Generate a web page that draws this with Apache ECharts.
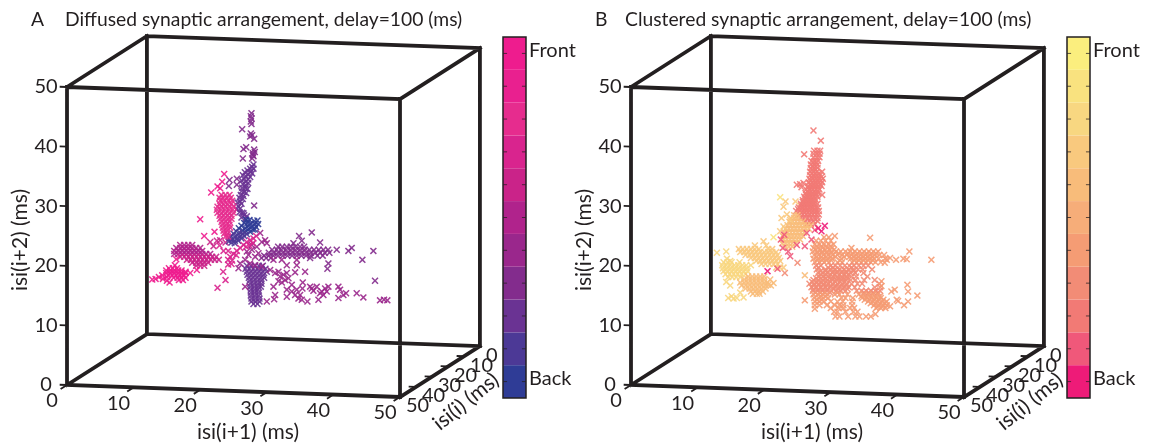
<!DOCTYPE html>
<html><head><meta charset="utf-8">
<style>html,body{margin:0;padding:0;background:#fff}#c{width:1150px;height:447px}</style>
<script src="https://cdn.jsdelivr.net/npm/echarts@6/dist/echarts.min.js"></script>
</head><body><div id="c"></div>
<script>
// Colour levels, Back (0) to Front (10)
const paletteA=['#2F3C96','#4C3996','#6A3393','#832C8D','#9A278C','#B0238C','#CA2389','#D9248E','#E62C8E','#E9208F','#EE1C8E'];
const paletteB=['#EE1B78','#F0587A','#F27A75','#F28C76','#F59C74','#F6AD79','#F8BC7A','#F9C97E','#F8D781','#F9E27F','#FBEE7E'];
const levelLabels=['Back','','','','','','','','','','Front'];
const axisTicks=[0,10,20,30,40,50];
// Scatter rows: [y, x, x, ...] (projected onto the front face)
const aStemTop=[[45.6,27.7],[45.1,27.6],[44.7,27.7],[44.2,27.6],[43.8,27.7],[42.9,26.3],[42.2,27.6],[41.9,27.8],[41.7,27.5],[41.3,28.1],[39.6,26.5],[39.9,26.9],[39.5,28.1],[39.1,28.2],[38.9,27.9],[38.6,27.9],[38.4,28],[38,27.8,26.4],[34.4,24.4],[34.6,25.5],[33.4,24.3],[33.6,25.5],[30.1,28.1]];
const aStem=[[37,28],[36.6,27.8],[36.3,27.5,28],[36,27.1],[35.8,27.6],[35.7,26.7],[35.5,27.8],[35.4,27.2],[35.2,26.4],[35,26.9],[34.9,27.5],[34.6,26.6],[34.5,27.2],[34.3,26.2],[34.1,26.8],[33.9,27.2],[33.7,26.4],[33.5,26.9],[33.1,26.3],[33,26.8],[32.9,27.1],[32.5,26.2],[32.4,26.6],[32.2,26.9],[31.9,26.1],[31.7,26.5],[31.4,25.9],[31.2,26.4],[30.8,26],[30.6,25.6],[30.4,26.2],[30,25.7],[29.6,26],[29.5,25.5],[29,25.9],[28.9,26.3],[28.8,26.5],[28.5,26.6],[28.3,27],[28.1,26.2],[27.9,26.8]];
const aPinkBlob=[[31.9,23.2,23.8,24.4],[31.4,22.9,23.4,24,24.6],[30.9,23,23.6,24.2,24.8],[30.4,22.9,23.5,24.1,24.7],[29.9,22.6,23.2,23.8,24.4,25],[29.4,22.5,23.1,23.7,24.3,24.9],[28.9,22.6,23.2,23.8,24.4,25],[28.4,22.9,23.5,24.1,24.7],[27.9,23,23.6,24.2,24.7],[27.4,23.2,23.8,24.4],[26.9,23.3,23.9,24.4],[26.4,23.4,24,24.5],[25.9,23.5,24.1],[25.4,23.6,24.1],[24.9,23.8,24.2]];
const aPinkTop=[[35.4,23.6],[34.1,23.3],[33.3,22.6],[32.3,21.65],[33,23],[27.8,20],[25,20.6],[25.7,22.15]];
const aBlue0=[[27.6,28.6],[27.5,28.1],[27.7,26.9,27.4],[27.2,26.6,27.1],[27,28.7,28.2],[27.1,27.6],[26.5,28.4],[26.6,27.8],[26.7,27.2,26.2],[26.1,27.9,28.2],[26.2,27.3],[26.3,26.8,25.8],[25.7,27.5],[25.8,26.9,25.4],[25.9,26.4]];
const aBlue1=[[25.3,27],[25.4,26.4,25],[25.6,25.9],[25,26.6,26.1,24.6],[25.1,25.6],[24.6,26.2,25.6,24.4],[24.8,25.2],[24.2,25.7,25.2],[24.4,24.8],[23.8,25.2],[23.9,24.7],[24.1,24.3]];
const aLeftBand=[[23.5,17,17.6,18.2,18.8],[23,16.4,17,17.6,18.2,18.8,19.4,20],[22.5,16.1,16.7,17.3,17.9,18.5,19.1,19.7,20.3],[22,16.1,16.7,17.3,17.9,18.5,19.1,19.7,20.3,20.9,21.5]];
const aLeftBand2=[[21.5,17,17.6,18.2,18.8,19.4,20,20.6,21.2,21.8,22.4],[21,18,18.6,19.2,19.8,20.4,21,21.6,22.2,22.8],[20.5,18.8,19.4,20,20.6,21.2],[20,19.4,20,20.6],[24,21.5],[24.2,22.5],[24.3,23],[23.9,23.8],[23.3,22]];
const aPinkLeft=[[19.6,15.3,15.9,16.5],[19.2,14.9,15.5,16.1,16.7,17.2],[18.8,14.9,15.5,16.1,16.7,17.2,17.8],[18.4,15.2,15.8,16.4,17,17.6],[18,16,16.6,17.2,17.8],[17.6,16.8,17.4],[17.7,12.8],[17.8,13.3,14.4],[18.1,13.8,15],[18.4,14.3],[17.5,15],[17.2,15.4],[18.8,18.5],[19.3,19.5],[19,17.8],[20.1,16.2],[21.1,16.4]];
const aDiagonal=[[21.5,24.5],[22,25],[22.5,25.5,24.2],[23,26],[23.5,26.5],[24,27],[24.3,27.5],[24.6,28],[25,28.4],[23.2,26.9],[23.4,27.4,22.9],[23.8,27.9],[21.8,25.4],[20.9,24.8],[21,24.2],[20.2,24.2],[20.3,24.7],[22.5,23.5],[19,23.45],[17.6,23.8],[16.3,22.6]];
const aBottom=[[20,27,27.6,28.2,28.8,29.4],[19.5,26.8,27.4,28,28.6,29.2,29.8],[19,27,27.6,28.2,28.8,29.4,30],[18.5,27.1,27.7,28.3,28.9,29.5],[18,27.3,27.9,28.5,29.1,29.6],[17.5,27.4,28,28.6,29.2],[17,27.5,28.1,28.7,29.2],[16.5,27.5,28.1,28.7,29.1],[16,27.6,28.2,28.7],[15.5,27.6,28.2,28.8],[15,27.6,28.2,28.8],[14.5,27.7,28.3,28.9],[14,27.7,28.3,28.9],[13.6,28,28.6]];
const aMiddle=[[20.4,26,27.5],[21,26.75],[21.5,28.25],[22.1,28.75],[22.7,27.75],[23.2,28.5],[24,29.25],[25.5,29],[24.3,29.75],[23.8,30],[21.8,27.25],[20.1,28.25],[19.6,25.75],[16.5,26.75],[19.9,29.25],[23.5,27.75],[22.4,27]];
const aRight=[[23.2,31.7,32.3,33,33.6,34.3,35,35.6],[22.7,30.8,31.5,32.2,32.9,33.6,34.3,35,35.7,36.4,37.1,37.8,38.5,39.2],[22.2,30.3,31,31.7,32.4,33.1,33.8,34.5,35.2,35.9,36.6,37.3,38,38.7,39.4],[21.7,29.6,30.3,31,31.7,32.4,33.1,33.8,34.5,35.2,35.9,36.6,37.6,38.4],[21.3,29.2,29.9,30.6,36.5],[22.7,40.5],[22.5,42.25,46],[23,42.75],[21,44.35],[17.5,46.25],[20.4,39.25],[19.5,39.1],[25.6,36.75],[25,34.85],[24.2,35.25],[23.9,38],[23.8,34]];
const aScatter=[[21,31,32.25,34.5],[20.1,33,34.5],[19,31.75,35.75],[18.8,33,31.25],[18.9,34.25],[19.3,30.5],[18.2,32],[18.5,32.5],[17.6,32.75],[17.4,31.75],[17.2,32.25,35.4],[17.9,33.25],[16.8,33.75],[16.5,31],[15.1,31.25],[14.4,31.1],[16.2,35.35],[14,30]];
const aLower=[[16,33,34.5],[14.8,33],[15.7,33.75,38.25,39],[15.1,34.25,35,38.5,41.5],[14.5,34.75],[14.3,35.25,37.75,47.6],[14,36.1],[16.2,36.75,38.75],[15.8,37],[16.5,37.5,39.25,40.75,36.5],[15.4,38,41.9,43.5],[16,41],[14.6,40.75],[14.7,44.5],[14.2,47,48.1]];
const bTopOut=[[42.7,27.4],[41,28.5],[38.7,26],[31.9,28.7]];
const bStem=[[39.3,27.5,28,28.4],[38.8,27.4,27.9,28.3],[38.2,27.4,27.9,28.3],[37.6,27.1,27.6,28.1],[37,27,27.5,28],[36.4,27,27.5,28],[35.8,26.9,27.4,27.9,28.7],[35.2,26.9,27.4,27.9,28.4],[34.6,26.8,27.3,27.8,28.3,28.8],[34,26.7,27.2,27.7,28.2,28.7],[33.4,26.6,27.1,27.6,28.1,28.6],[32.8,26.3,26.8,27.3,27.8,28.3],[32.2,26.2,26.7,27.2,27.7,28.1],[31.6,26,26.5,27,27.5,28],[31,25.8,26.3,26.8,27.3,27.8],[30.4,25.5,26,26.5,27,27.5,28],[29.8,25.2,25.7,26.2,26.7,27.2,27.7,28.1],[29.2,24.8,25.3,25.8,26.3,26.8,27.3,27.8,28.2],[28.6,25.3,25.8,26.3,26.8,27.3,27.8,28.2],[28,25.5,26,26.5,27,27.5,28],[33.6,24.9],[33.7,25.4],[33.9,25.9],[33.2,25.6],[27.5,26.2,26.8,27.4,28],[27,26.4,27,27.6]];
const bStemFill=[[37.3,27.4,27.8],[36.7,27.3,27.8],[36.1,27.2,27.7],[35.5,27.2,27.7,28.2],[34.9,27.1,27.6,28.1,28.6],[34.3,27,27.5,28,28.5],[33.7,26.9,27.4,27.9,28.4],[33.1,26.6,27.1,27.6,28.1],[32.5,26.5,27,27.5,28],[31.9,26.3,26.8,27.3,27.8],[31.3,26.1,26.6,27.1,27.6],[30.7,25.8,26.3,26.8,27.3],[30.1,25.5,26,26.5,27,27.5],[29.5,25.1,25.6,26.1,26.6,27.1,27.6],[28.9,25.6,26.1,26.6,27.1,27.6]];
const bMagenta0=[[26.7,29.1],[25.8,28.6],[19.1,20.5],[26.3,28.1]];
const bMagenta1=[[26,27.6],[24.4,27.1],[23.3,26.1],[21.6,23.9],[22.4,23.6],[23,22.8],[19.5,22],[23.5,24.9],[25.5,26.4],[24.4,22.5],[25.2,23]];
const bCentre=[[28.5,24.5,25],[28,24,24.5,25],[27.4,23.8,24.3,24.8,25.3,25.8],[26.8,23.5,24,24.5,25,25.5,26,26.5,27],[26.2,23.2,23.7,24.2,24.7,25.2,25.7,26.2,26.7],[25.6,23,23.5,24,24.5,25,25.5,26],[25,22.8,23.3,23.8,24.3,24.8,25.3,25.8],[24.4,22.9,23.4,23.9,24.4,24.9,25.4],[23.8,22.7,23.2,23.7,24.2,24.7],[23.2,23.2,23.7,24.2]];
const bArm=[[30.8,23.2,24.7],[29.9,22.9],[28.6,23.4],[28,22.6],[27.7,23.9],[26.6,22.9],[25.8,22.4],[24.1,19.9],[23.4,20.3,18.6]];
const bArmTip=[[31.5,22.4],[24.8,21.4]];
const bLeftBand=[[22.8,16.2,16.8,17.4,18,18.6,19.2,20.6,21.2],[22.3,16.4,17,17.6,18.2,18.8,19.4,20,20.6,21.2,21.8],[21.8,17.2,17.8,18.4,19,19.6,20.2,20.8,21.4,22],[21.3,18,18.6,19.2,19.8,20.4,21,21.6,22.2],[20.8,18.8,19.4,20,20.6,21.2,21.8,22.4],[20.3,19.6,20.2,20.8,21.4,22],[19.7,21.8,22.4,22.9]];
const bYellow=[[20.6,13.9,14.5,15.1,16.3],[20.1,13.7,14.3,14.9,15.5,16.1,16.7,17.3,18],[19.6,13.8,14.4,15,15.6,16.2,16.8,17.4],[19.1,13.9,14.5,15.1,15.7,16.3,16.9,17.5],[18.6,14.2,14.8,15.4,16,16.6,17.2],[18.1,14.6,15.2,15.8,16.4],[22.2,12.9],[22.4,14.3],[21.2,14.4],[20.8,14.9],[17.3,14.3],[16.7,14.9],[14.9,15.1],[14.6,14.6,15.9],[15.5,16.4],[14.7,16.9],[14.5,15.4]];
const bLowerLeft=[[18.2,17.6,18.2,18.8,19.4,20],[17.7,17,17.6,18.2,18.8,19.4,20,20.9],[17.2,16.4,17,17.6,18.2,18.8,19.4,20,20.5],[16.7,16.6,17.2,17.8,18.4,19,19.6,20.2,21],[16.2,17.2,17.8,18.4,19,19.6,20.2],[15.7,18,18.6,19.2,19.8],[15.3,18.3,18.9,19.3],[17.1,21.4],[16.8,20.6],[18.4,26.1]];
const bBodyTop=[[24.8,29,29.7],[24.2,27.8,28.5,29.2,30],[23.6,27.6,28.3,29,29.7,30.4],[23,27.4,28.1,28.8,29.5,30.2,33.1],[22.4,27.3,28,28.7,29.4,30.1,30.8,31.5,32.2,32.9,33.6,34.3,35,35.7,36.4,37.1],[21.8,27.5,28.2,28.9,29.6,30.3,31,31.7,32.4,33.1,33.8,34.5,35.2,35.9,36.6,37.3,38],[21.2,27.4,28.1,28.8,29.5,30.2,31.6,33,33.7,34.4,35.1,35.8,36.5,37.2,38.2],[20.6,27.6,28.3,29,29.7,31,31.7,33.2,33.9,34.6,35.3,36,36.7,37.5],[24.7,35.9],[22.4,41.8],[21.1,41.4],[21.2,40.9],[21,45.1,39.8,38.4],[21.3,38.9],[20.5,38.1],[25,30.6]];
const bBodyFill=[[23.3,27.9,28.6,29.3,30],[22.7,27.7,28.4,29.1,29.8,30.5],[22.1,28,28.7,29.4,30.1,31.2,32.6,33.3,34,34.7,35.4,36.1,36.8],[21.5,27.9,28.6,29.3,30,30.7,32,32.8,33.5,34.2,34.9,35.6,36.3],[20.9,28,28.7,29.4,30.1,31.4,33.5,34.2,34.9,35.6,36.3]];
const bCore=[[20,27.8,28.5,30,30.7,31.4,32.1,32.8,33.5,34.2,34.9,35.6],[19.4,27.9,29.2,29.9,30.6,31.3,32,32.7,33.4,34.1,34.8,36.2],[18.8,28.1,28.8,29.5,30.2,30.9,31.6,32.3,33,33.7,34.9],[18.2,28.2,28.9,29.6,30.3,31,31.7,32.4,33.1,33.8,35.5],[17.6,27.4,28.1,28.8,29.5,30.2,30.9,31.6,32.3,33,33.7,35,36.6],[17,26.8,27.5,28.2,28.9,29.6,30.3,31,31.7,32.4,33.1,34,34.7,37.3],[16.4,27.1,27.8,28.5,29.2,29.9,30.6,31.3,32,32.7,33.6,36.6,37.4],[15.8,27.3,28,28.7,29.4,30.1,30.8,31.5,32.2,33.9,34.6,35.3,36,36.7,37.4],[20.5,25],[18.8,23.1],[19.1,30.4,31,31.7,32.3],[18.5,30.6,31.3,32,32.6],[17.9,30.2,31,31.7,32.4],[17.3,29.9,30.7,31.4,32.1],[16.7,30,30.8,31.6],[16.1,30.4,31.1,31.8]];
const bCoreFill=[[19.7,28.2,29.6,30.3,33.1],[19.1,28.5,29.2,33.4],[18.5,28.5,29.3,30],[17.9,27.8,28.5,29.2],[17.3,27.2,27.9,28.6,29.3],[16.7,27.5,28.2,28.9,29.4,32.3],[16.1,27.4,28.1,28.8,29.5,32.5],[15.5,27.7,28.4,29.1,29.9,31,35,35.7,36.4,37.1]];
const bBodyLow=[[15.2,27.4,28.1,28.8,29.5,30.6,31.3,32.5,34.2,34.9,35.6,36.3,37],[14.6,27.5,28.2,28.9,29.6,31.6,32.2,33.3,34.7,35.4,36.1,36.8,37.5],[14,27.6,28.3,29,30,31,31.8,33.2,35.6,36.3,37,37.7,38.4],[13.4,27.6,28.3,29.4,30.6,31.3,31.9,33.2,36.5,37.2,37.9,38.4],[12.9,30,31.2,31.9,32.9,33.5,36.8,37.5,38.2],[12.3,30.5,31,32.2,33.4,34],[11.5,30.7,31.3,32.6,33.7,34.3,35.3,36],[17.4,37.6],[16.6,37.6],[16.8,41.5],[15.7,41.6,39.1],[16,39.6],[14.3,39.9],[15,43],[14,41.6],[13.4,41],[14.1,40.1],[13.2,38.9],[11.9,36.7],[12.8,27.6],[14.2,26.1],[14.9,34.6,35.3,36,36.7,37.4],[14.3,35.1,35.8,36.5,37.2,37.9],[13.7,36,36.7,37.4,38.1],[13.1,37,37.7],[14.9,28.5,29.2],[14.3,27.9,28.6]];

const clustersA=[[2,aStem],[3,aStemTop],[3,aRight],[2,aBottom],[4,aScatter],[4,aMiddle],[4,aLower],[5,aLeftBand],[6,aLeftBand2],[0,aBlue0],[1,aBlue1],[7,aDiagonal],[8,aPinkBlob],[10,aPinkTop],[10,aPinkLeft]];
const clustersB=[[2,bStem],[2,bStemFill],[2,bTopOut],[4,bBodyTop],[4,bBodyFill],[3,bCore],[3,bCoreFill],[4,bBodyLow],[6,bCentre],[7,bArm],[9,bArmTip],[7,bLeftBand],[8,bYellow],[6,bLowerLeft],[1,bMagenta1],[0,bMagenta0]];

const INK='#231F20', FONT='Lato';
const CROSS='path://M0,1.5L1.5,0L5,3.5L8.5,0L10,1.5L6.5,5L10,8.5L8.5,10L5,6.5L1.5,10L0,8.5L3.5,5Z';
const project=(x,y,d)=>[x+(50-d)*0.24,y+(50-d)*0.171-x*0.0403];
const expand=cl=>{const o=[];cl.forEach(([lv,rows])=>rows.forEach(r=>r.slice(1).forEach(x=>o.push([x,r[0],lv]))));return o;};
const edges=[[[0,0,50],[50,0,50]],[[50,0,50],[50,50,50]],[[50,50,50],[0,50,50]],[[0,50,50],[0,0,50]],[[0,0,0],[50,0,0]],[[50,0,0],[50,50,0]],[[50,50,0],[0,50,0]],[[0,50,0],[0,0,0]],[[0,0,50],[0,0,0]],[[50,0,50],[50,0,0]],[[50,50,50],[50,50,0]],[[0,50,50],[0,50,0]]];
const segs=l=>{const o=[];l.forEach(([a,b])=>{o.push(project(...a),project(...b),[null,null]);});return o;};
const tickSegs=[];
axisTicks.forEach(t=>{tickSegs.push([[-1.1,t,50],[0,t,50]],[[t,0,54],[t,0,50]],[[50,0,t],[48.9,0,t]]);});

const series=[];
const textSeries=(xi,pts,align,off,rot,size)=>({type:'scatter',xAxisIndex:xi,yAxisIndex:xi,symbolSize:0,silent:true,clip:false,z:6,itemStyle:{opacity:1},
  data:pts.map(p=>({value:p.pos,name:p.text})),
  label:{show:true,position:'inside',formatter:'{b}',color:INK,fontFamily:FONT,fontSize:size||20,align:align,verticalAlign:'middle',offset:off,rotate:rot||0}});
[clustersA,clustersB].forEach((cl,i)=>{
  series.push({type:'scatter',xAxisIndex:i,yAxisIndex:i,symbol:CROSS,symbolSize:7,silent:true,clip:false,z:3,itemStyle:{opacity:.9},data:expand(cl)});
});
[0,1].forEach(i=>{
  series.push({type:'line',xAxisIndex:i,yAxisIndex:i,data:segs(edges),symbol:'none',silent:true,clip:false,z:4,connectNulls:false,lineStyle:{color:INK,width:3.8,cap:'square'}});
  series.push({type:'line',xAxisIndex:i,yAxisIndex:i,data:segs(tickSegs),symbol:'none',silent:true,clip:false,z:4,connectNulls:false,lineStyle:{color:INK,width:1.8}});
  series.push(textSeries(i,axisTicks.map(t=>({pos:project(0,t,50),text:String(t)})),'center',[-21,0]));
  series.push(textSeries(i,axisTicks.map(t=>({pos:project(t,0,50),text:String(t)})),'center',[-15,16]));
  series.push(textSeries(i,axisTicks.map(t=>({pos:project(50,0,t),text:String(t)})),'left',[6,9]));
  series.push(textSeries(i,[{pos:project(25,0,50),text:'isi(i+1) (ms)'}],'center',[14.5,41],0,21));
  series.push(textSeries(i,[{pos:project(0,25,50),text:'isi(i+2) (ms)'}],'center',[-4,-47],90,21));
  series.push(textSeries(i,[{pos:project(50,0,25),text:'isi(i) (ms)'}],'center',[1.3,39.7],39,21));
});
[paletteA,paletteB].forEach((pal,i)=>{
  series.push({type:'bar',xAxisIndex:2+i,yAxisIndex:2+i,barWidth:'100%',silent:true,z:1,
    label:{show:true,position:'right',formatter:'{b}',distance:3,offset:[0,-3],color:INK,fontFamily:FONT,fontSize:20},
    data:pal.map(c=>({value:1,itemStyle:{color:c}}))});
  // Short ticks on both inner sides of the colour bar, one per colour level
  series.push({type:'scatter',xAxisIndex:2+i,yAxisIndex:2+i,symbol:'rect',symbolSize:[4,1],silent:true,z:3,
    itemStyle:{color:INK,opacity:.75},
    data:pal.flatMap((c,k)=>[[0.09,k],[0.91,k]])});
});
const panelX=i=>({gridIndex:i,type:'value',min:-10,max:70,interval:10,show:false});
const panelY=i=>({gridIndex:i,type:'value',min:-10,max:60,interval:10,show:false});
const barY=g=>({gridIndex:g,type:'category',data:levelLabels,
  axisLine:{show:false},splitLine:{show:false},axisTick:{show:false},axisLabel:{show:false}});
const chart=echarts.init(document.getElementById('c'),null,{renderer:'canvas'});
const mkTitle=(t,x)=>({text:t,left:x,top:10,padding:0,textStyle:{color:INK,fontFamily:FONT,fontSize:19.3,fontWeight:'normal'}});
chart.setOption({animation:false,backgroundColor:'#fff',
  title:[mkTitle('A',31),mkTitle('Diffused synaptic arrangement, delay=100 (ms)',65),mkTitle('B',595),mkTitle('Clustered synaptic arrangement, delay=100 (ms)',625)],
  grid:[
    {left:0.4,width:532.8,top:27.4,height:417.2},
    {left:564.4,width:532.8,top:27.4,height:417.2},
    {left:503,width:23,top:37,height:361,show:true,borderColor:INK,borderWidth:1.5,backgroundColor:'transparent',z:5},
    {left:1067,width:23,top:37,height:361,show:true,borderColor:INK,borderWidth:1.5,backgroundColor:'transparent',z:5}
  ],
  xAxis:[panelX(0),panelX(1),{gridIndex:2,type:'value',min:0,max:1,show:false},{gridIndex:3,type:'value',min:0,max:1,show:false}],
  yAxis:[panelY(0),panelY(1),barY(2),barY(3)],
  visualMap:[paletteA,paletteB].map((pal,i)=>({type:'piecewise',show:false,seriesIndex:i,dimension:2,
    pieces:pal.map((c,k)=>({gte:k-.5,lt:k+.5,color:c}))})),
  series});
</script></body></html>
